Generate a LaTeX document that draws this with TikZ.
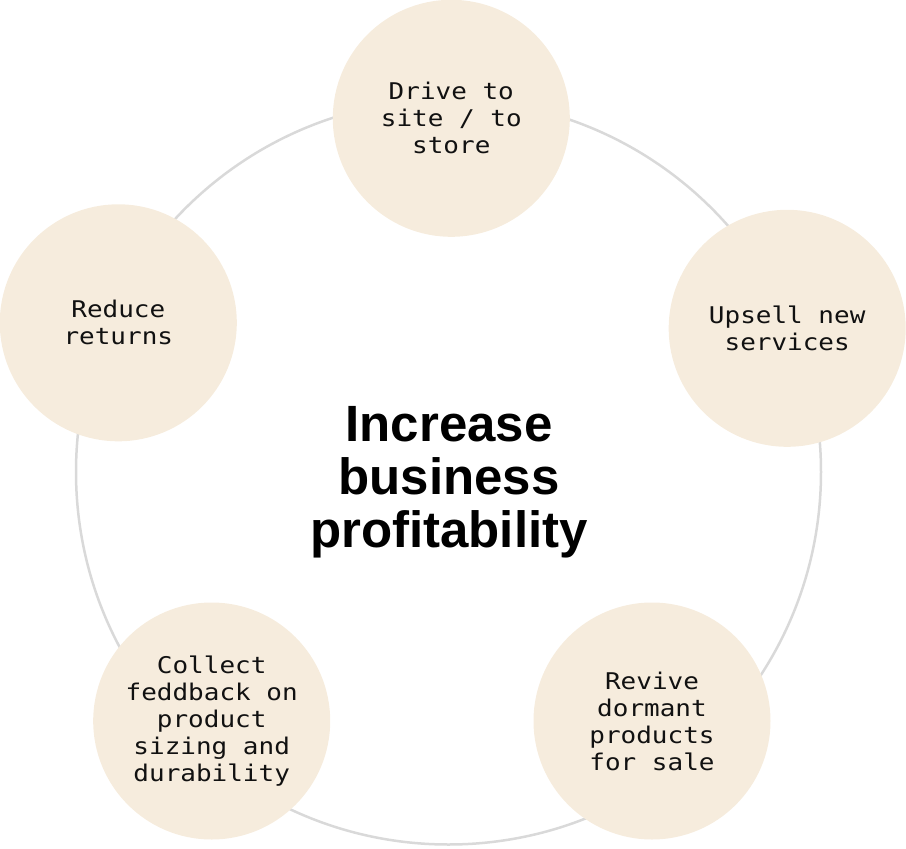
\documentclass[tikz,border=0pt]{standalone}
\usepackage{fontspec}
\newfontfamily\stepmono[FakeStretch=1.13]{DejaVu Sans Mono}
\newfontfamily\titlesans{Liberation Sans}
\definecolor{cream}{HTML}{F6ECDD}
\definecolor{ringgray}{HTML}{D9D9D9}
\definecolor{inktext}{HTML}{111111}
\tikzset{
  ringstyle/.style={circle, draw=ringgray, line width=2.5pt, minimum size=745pt, inner sep=0pt},
  goalbox/.style={circle, fill=cream, minimum size=237pt, inner sep=0pt, align=center,
    text=inktext, font=\stepmono\fontsize{23}{27}\selectfont},
  titlebox/.style={align=center, text=black, font=\titlesans\bfseries\fontsize{51}{53}\selectfont}
}
\begin{document}
\begin{tikzpicture}[x=1pt,y=-1pt]
\useasboundingbox (0,0) rectangle (906,849);
\node[ringstyle] (ring) at (448.5,472) {};
\node[goalbox] (drive) at (451.3,118.3) {Drive to\\site / to\\store};
\node[goalbox] (upsell) at (787.2,328.3) {Upsell new\\services};
\node[goalbox] (revive) at (652,721) {Revive\\dormant\\products\\for sale};
\node[goalbox] (collect) at (211.7,721) {Collect\\feddback on\\product\\sizing and\\durability};
\node[goalbox] (reduce) at (118.3,322.8) {Reduce\\returns};
\node[titlebox] (title) at (449,482) {Increase\\business\\profitability};
\end{tikzpicture}
\end{document}
